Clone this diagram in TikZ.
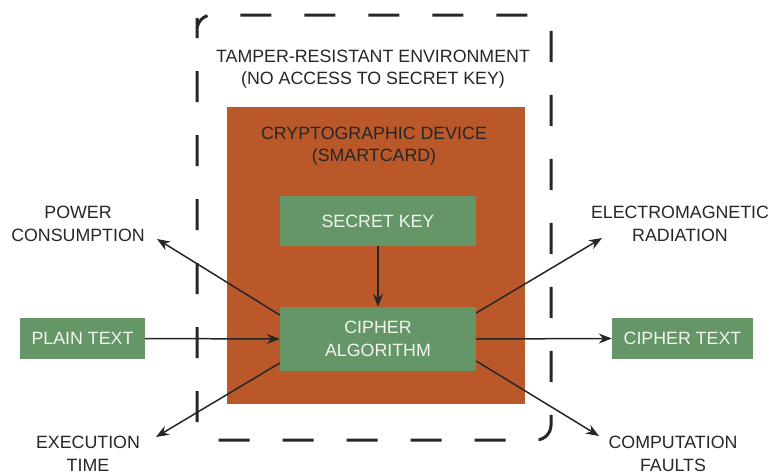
\documentclass[tikz,border=0pt]{standalone}
\usepackage{fontspec}
\setmainfont{Liberation Sans}
\usetikzlibrary{arrows.meta}
\definecolor{devorange}{RGB}{187,88,42}
\definecolor{boxgreen}{RGB}{100,150,104}
\definecolor{inkdark}{RGB}{38,38,38}
\definecolor{boxtext}{RGB}{245,245,240}
\tikzset{
  txt/.style={font=\fontsize{17.8}{22.5}\selectfont, align=center, inner sep=0pt},
  lbl/.style={txt, text=inkdark},
  greenbox/.style={txt, fill=boxgreen, text=boxtext, minimum width=#1},
  arr/.style={draw=inkdark, line width=1.5pt, -{Stealth[length=13pt,width=10pt]}},
  envline/.style={draw=inkdark, line width=3pt, dash pattern=on 31pt off 33pt, rounded corners=15pt}
}
\begin{document}
\begin{tikzpicture}[x=1pt,y=-1pt]
\useasboundingbox (0,0) rectangle (773,471);
% tamper-resistant environment
\draw[envline] (197,33) -- (197,15) -- (551,15) -- (551,440) -- (197,440) -- cycle;
\node[lbl] (envlbl) at (373,69) {TAMPER-RESISTANT ENVIRONMENT\\(NO ACCESS TO SECRET KEY)};
% device
\node[fill=devorange, minimum width=298pt, minimum height=297pt, inner sep=0pt] (dev) at (376,255.5) {};
\node[lbl] (devlbl) at (374,146) {CRYPTOGRAPHIC DEVICE\\(SMARTCARD)};
% boxes
\node[greenbox=196pt, minimum height=50pt] (key) at (378,221) {SECRET KEY};
\node[greenbox=196pt, minimum height=64pt] (cipher) at (378,339) {CIPHER\\ALGORITHM};
\node[greenbox=125pt, minimum height=41pt] (plain) at (82.5,338.5) {PLAIN TEXT};
\node[greenbox=141pt, minimum height=41pt] (ctext) at (682.5,338.5) {CIPHER TEXT};
% side-channel labels
\node[lbl] (power) at (78,224) {POWER\\CONSUMPTION};
\node[lbl] (em) at (680,224) {ELECTROMAGNETIC\\RADIATION};
\node[lbl] (exec) at (88,454) {EXECUTION\\TIME};
\node[lbl] (faults) at (673,454) {COMPUTATION\\FAULTS};
\coordinate (powertip) at (157,239);
\coordinate (emtip) at (602,238);
\coordinate (exectip) at (156,437);
\coordinate (faultstip) at (599,436);
% connectors
\draw[arr] (key.south) -- (cipher.north);
\draw[arr] (plain.east) -- (cipher.west);
\draw[arr] (cipher.east) -- (ctext.west);
\draw[arr] ([yshift=24pt]cipher.west) -- (powertip);
\draw[arr] ([yshift=-24pt]cipher.west) -- (exectip);
\draw[arr] ([yshift=26pt]cipher.east) -- (emtip);
\draw[arr] ([yshift=-22pt]cipher.east) -- (faultstip);
\end{tikzpicture}
\end{document}
